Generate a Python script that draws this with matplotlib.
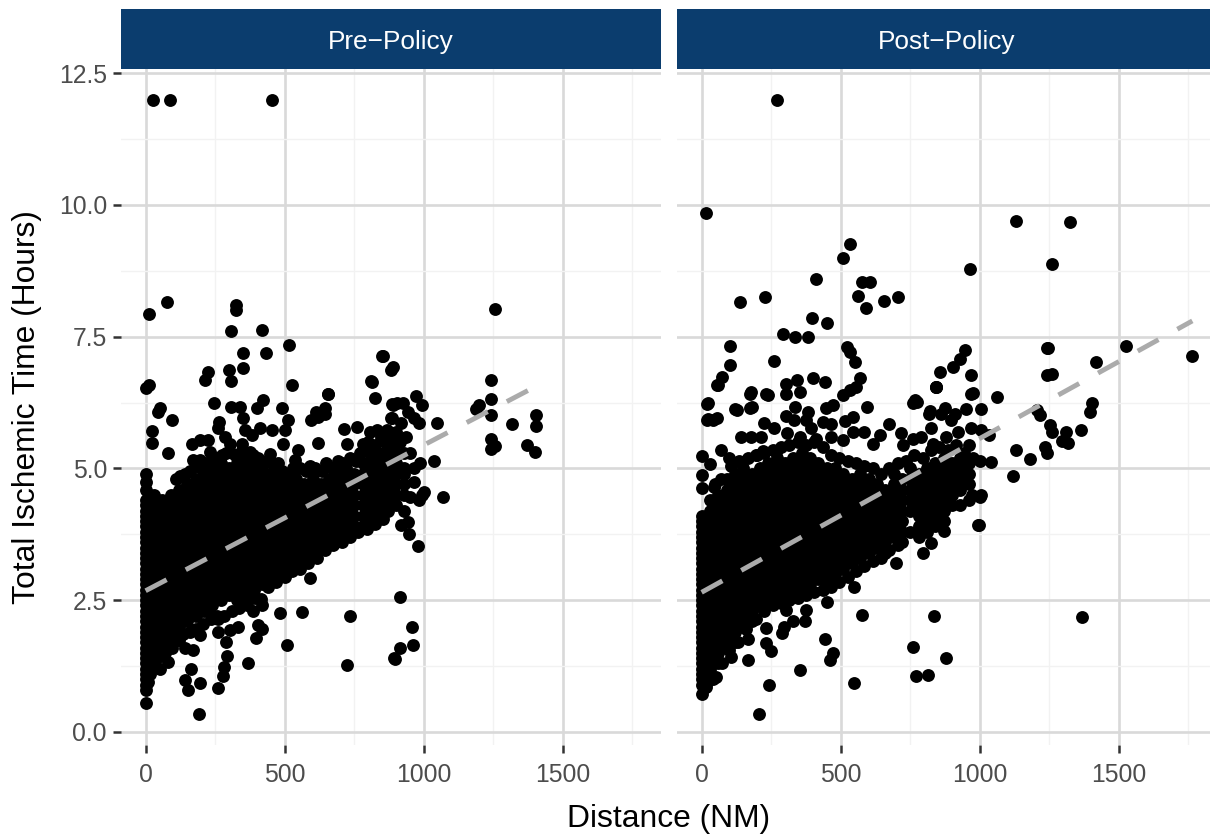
import matplotlib
matplotlib.use("Agg")
import matplotlib.pyplot as plt

plt.rcParams['font.family'] = ['Liberation Sans', 'DejaVu Sans']

W, H = 1210, 835

panel_names = ['Pre\u2212Policy', 'Post\u2212Policy']
x_major = [0, 500, 1000, 1500]
x_minor = [250, 750, 1250, 1750]
y_major = [0, 2.5, 5, 7.5, 10, 12.5]
y_minor = [1.25, 3.75, 6.25, 8.75, 11.25]
y_labels = ['0.0', '2.5', '5.0', '7.5', '10.0', '12.5']

# dense part of the cloud, column by column (distance, then times read at that distance)
pre_col_x = [0, 30, 60, 90, 120, 150, 180, 210, 240, 270, 300, 330, 360, 390, 420, 450,
             480, 510, 540, 570, 600, 630, 660, 690, 720, 750, 780, 810, 840, 870, 900, 930]
pre_col_y = [
    [0.8, 1.0, 1.2, 1.4, 1.6, 1.8, 2.0, 2.2, 2.4, 2.6, 2.8, 3.0, 3.2, 3.4, 3.6, 3.8, 4.0, 4.2, 4.4],
    [1.5, 1.7, 1.9, 2.1, 2.3, 2.5, 2.7, 2.9, 3.1, 3.3, 3.5, 3.7, 3.9, 4.1, 4.3, 4.5],
    [1.6, 1.8, 2.0, 2.2, 2.4, 2.6, 2.8, 3.0, 3.2, 3.4, 3.6, 3.8, 4.0, 4.2, 4.4],
    [1.7, 1.9, 2.1, 2.3, 2.5, 2.7, 2.9, 3.1, 3.3, 3.5, 3.7, 3.9, 4.1, 4.3, 4.5],
    [1.8, 2.0, 2.2, 2.4, 2.6, 2.8, 3.0, 3.2, 3.4, 3.6, 3.8, 4.0, 4.2, 4.4, 4.6],
    [2.1, 2.3, 2.5, 2.7, 2.9, 3.1, 3.3, 3.5, 3.7, 3.9, 4.1, 4.3, 4.5, 4.7],
    [2.2, 2.4, 2.6, 2.8, 3.0, 3.2, 3.4, 3.6, 3.8, 4.0, 4.2, 4.4, 4.6, 4.8],
    [2.3, 2.5, 2.7, 2.9, 3.1, 3.3, 3.5, 3.7, 3.9, 4.1, 4.3, 4.5, 4.7, 4.9],
    [2.4, 2.6, 2.8, 3.0, 3.2, 3.4, 3.6, 3.8, 4.0, 4.2, 4.4, 4.6, 4.8, 5.0],
    [2.5, 2.7, 2.9, 3.1, 3.3, 3.5, 3.7, 3.9, 4.1, 4.3, 4.5, 4.7, 4.9, 5.1],
    [2.6, 2.8, 3.0, 3.2, 3.4, 3.6, 3.8, 4.0, 4.2, 4.4, 4.6, 4.8, 5.0],
    [2.5, 2.7, 2.9, 3.1, 3.3, 3.5, 3.7, 3.9, 4.1, 4.3, 4.5, 4.7, 4.9, 5.1],
    [2.6, 2.8, 3.0, 3.2, 3.4, 3.6, 3.8, 4.0, 4.2, 4.4, 4.6, 4.8, 5.0],
    [2.7, 2.9, 3.1, 3.3, 3.5, 3.7, 3.9, 4.1, 4.3, 4.5, 4.7, 4.9, 5.1],
    [2.8, 3.0, 3.2, 3.4, 3.6, 3.8, 4.0, 4.2, 4.4, 4.6, 4.8, 5.0],
    [2.9, 3.1, 3.3, 3.5, 3.7, 3.9, 4.1, 4.3, 4.5, 4.7, 4.9],
    [3.0, 3.2, 3.4, 3.6, 3.8, 4.0, 4.2, 4.4, 4.6, 4.8],
    [3.1, 3.3, 3.5, 3.7, 3.9, 4.1, 4.3, 4.5, 4.7],
    [3.2, 3.4, 3.6, 3.8, 4.0, 4.2, 4.4, 4.6, 4.8],
    [3.3, 3.5, 3.7, 3.9, 4.1, 4.3, 4.5, 4.7],
    [3.4, 3.6, 3.8, 4.0, 4.2, 4.4, 4.6, 4.8],
    [3.5, 3.7, 3.9, 4.1, 4.3, 4.5, 4.7],
    [3.6, 3.8, 4.0, 4.2, 4.4, 4.6, 4.8],
    [3.7, 3.9, 4.1, 4.3, 4.5, 4.7, 4.9],
    [3.8, 4.0, 4.2, 4.4, 4.6, 4.8, 5.0],
    [3.9, 4.1, 4.3, 4.5, 4.7, 4.9],
    [3.9, 4.1, 4.3, 4.5, 4.7, 4.9, 5.1],
    [4.0, 4.2, 4.4, 4.6, 4.8, 5.0, 5.2],
    [4.1, 4.3, 4.5, 4.7, 4.9, 5.1, 5.3],
    [4.2, 4.4, 4.6, 4.8, 5.0, 5.2, 5.4],
    [4.3, 4.5, 4.7, 4.9, 5.1, 5.3, 5.5],
    [4.2, 4.5, 4.9, 5.0, 5.3],
]
pre_x = [25, 86, 453, 76, 11, 324, 324, 306, 420, 349, 432, 514, 299, 223, 212, 349, 306, 525,
         11, 0, 52, 46, 96, 22, 22, 82, 246, 307, 339, 399, 423, 492, 513, 501, 453, 411, 381,
         351, 357, 264, 261, 285, 303, 303, 231, 225, 195, 165, 171, 195, 345, 375, 495, 447,
         549, 537, 621, 595, 621, 645, 645, 657, 713, 761, 723, 825, 813, 885, 885, 807, 831,
         867, 783, 813, 655, 809, 849, 612, 0, 0, 0, 8, 5,
         855, 891, 883, 971, 995, 903, 891, 927, 945, 963, 981, 883, 917, 1256, 1242, 1242,
         1242, 1199, 1188, 1316, 1404, 1404, 1370, 1398, 1242, 1256, 1242, 1048, 1038, 1068,
         980, 916, 959, 960, 916, 893, 917, 945, 948, 995, 981, 951,
         591, 414, 417, 387, 483, 561, 733, 405, 417, 396, 333, 303, 261, 288, 261, 225, 510,
         367, 291, 282, 277, 261, 195, 151, 141, 162, 192, 0, 52, 82, 169, 195, 723, 897, 120, 140]
pre_y = [12, 12, 12, 8.16, 7.93, 8.1, 8.0, 7.6, 7.63, 7.19, 7.19, 7.34, 6.87, 6.83, 6.68, 6.9, 6.66, 6.58,
         6.58, 6.53, 6.14, 6.08, 5.92, 5.72, 5.49, 5.3, 6.25, 6.16, 6.16, 6.14, 6.3, 6.14, 5.92, 5.73, 5.73, 5.76, 5.63,
         5.95, 5.73, 5.89, 5.76, 5.6, 5.47, 5.32, 5.32, 5.54, 5.54, 5.47, 5.16, 5.16, 5.47, 5.32, 5.47, 5.28,
         5.35, 5.16, 5.49, 5.92, 5.97, 6.04, 6.14, 6.42, 5.75, 5.79, 5.47, 6.33, 6.65, 6.23, 5.95, 5.7, 5.73,
         5.73, 5.47, 5.38, 6.41, 6.66, 7.13, 6.07, 4.6, 4.75, 4.9, 0.95, 1.1,
         7.13, 6.92, 6.87, 6.38, 6.2, 6.25, 6.2, 6.25, 6.08, 5.96, 5.87, 5.96, 5.86, 8.03, 6.67, 6.32,
         6.02, 6.2, 6.13, 5.84, 6.02, 5.81, 5.45, 5.31, 5.56, 5.42, 5.37, 5.87, 5.14, 4.45,
         3.52, 2.56, 1.99, 1.65, 1.6, 1.4, 3.93, 3.99, 3.75, 4.5, 4.4, 4.45,
         2.93, 2.53, 2.41, 2.3, 2.25, 2.27, 2.2, 2.03, 1.96, 1.79, 1.99, 1.93, 1.9, 1.71, 2.15, 2.31, 1.65,
         1.3, 1.44, 1.23, 1.06, 0.84, 0.93, 0.79, 0.99, 1.2, 0.34, 0.55, 1.19, 1.33, 1.55, 1.84, 1.28, 1.39, 1.75, 1.6]

# rim of the cloud and the left edge at very short distances
pre_edge_x = [110, 125, 140, 160, 185, 200, 215, 235, 255, 275, 290, 320, 340, 365, 385, 405, 435, 460, 475,
              490, 510, 530, 555, 575, 590, 610, 635, 650, 670, 690, 705, 735, 755, 770, 790, 800, 825, 845,
              860, 880, 900, 915, 935, 950, 965, 985, 930, 965, 1000,
              20, 35, 50, 70, 95, 115, 135, 160, 180, 205, 235, 255, 280, 310, 335, 365, 395, 440, 470, 500,
              525, 555, 585, 615, 645, 675, 705, 735, 765, 795, 825, 855,
              0, 0, 0, 0, 0, 0, 0, 0, 0, 0, 0, 0, 0, 0, 0, 0, 0, 0,
              14, 14, 14, 14, 14, 14, 14, 14, 14, 14, 14, 14, 14, 14, 14, 14, 14]
pre_edge_y = [4.8, 4.85, 4.9, 4.95, 5.05, 5.0, 5.1, 5.15, 5.2, 5.25, 5.3, 5.25, 5.3, 5.2, 5.25, 5.2, 5.15, 5.05, 5.1,
              4.95, 4.9, 5.0, 5.0, 4.95, 5.05, 5.0, 4.95, 5.1, 5.0, 5.15, 5.1, 5.2, 5.15, 5.3, 5.35, 5.5, 5.45, 5.6,
              5.5, 5.65, 5.7, 5.5, 5.6, 5.3, 5.0, 5.1, 4.7, 4.75, 4.55,
              1.2, 1.35, 1.45, 1.5, 1.6, 1.75, 1.85, 1.9, 1.95, 2.05, 2.15, 2.2, 2.2, 2.3, 2.35, 2.4, 2.55, 2.75, 2.85, 2.95,
              3.05, 3.1, 3.2, 3.3, 3.45, 3.55, 3.6, 3.7, 3.8, 3.85, 3.95, 4.05,
              0.9, 1.1, 1.3, 1.5, 1.7, 1.9, 2.1, 2.3, 2.5, 2.7, 2.9, 3.1, 3.3, 3.5, 3.7, 3.9, 4.1, 4.3,
              1.1, 1.3, 1.5, 1.7, 1.9, 2.1, 2.3, 2.5, 2.7, 2.9, 3.1, 3.3, 3.5, 3.7, 3.9, 4.1, 4.3]

post_col_x = [0, 30, 60, 90, 120, 150, 180, 210, 240, 270, 300, 330, 360, 390, 420, 450, 465,
              480, 510, 540, 570, 600, 630, 660, 690, 720, 750, 780, 810, 840, 870, 900, 930, 960]
post_col_y = [
    [0.9, 1.1, 1.3, 1.5, 1.7, 1.9, 2.1, 2.3, 2.5, 2.7, 2.9, 3.1, 3.3, 3.5, 3.7, 3.9],
    [1.0, 1.2, 1.4, 1.6, 1.8, 2.0, 2.2, 2.4, 2.6, 2.8, 3.0, 3.2, 3.4, 3.6, 3.8, 4.0, 4.2, 4.4],
    [1.3, 1.5, 1.7, 1.9, 2.1, 2.3, 2.5, 2.7, 2.9, 3.1, 3.3, 3.5, 3.7, 3.9, 4.1, 4.3, 4.5],
    [1.6, 1.8, 2.0, 2.2, 2.4, 2.6, 2.8, 3.0, 3.2, 3.4, 3.6, 3.8, 4.0, 4.2, 4.4, 4.6, 4.8],
    [1.7, 1.9, 2.1, 2.3, 2.5, 2.7, 2.9, 3.1, 3.3, 3.5, 3.7, 3.9, 4.1, 4.3, 4.5, 4.7, 4.9],
    [2.0, 2.2, 2.4, 2.6, 2.8, 3.0, 3.2, 3.4, 3.6, 3.8, 4.0, 4.2, 4.4, 4.6, 4.8, 5.0],
    [2.1, 2.3, 2.5, 2.7, 2.9, 3.1, 3.3, 3.5, 3.7, 3.9, 4.1, 4.3, 4.5, 4.7, 4.9],
    [2.4, 2.6, 2.8, 3.0, 3.2, 3.4, 3.6, 3.8, 4.0, 4.2, 4.4, 4.6, 4.8, 5.0],
    [2.5, 2.7, 2.9, 3.1, 3.3, 3.5, 3.7, 3.9, 4.1, 4.3, 4.5, 4.7, 4.9, 5.1],
    [2.6, 2.8, 3.0, 3.2, 3.4, 3.6, 3.8, 4.0, 4.2, 4.4, 4.6, 4.8, 5.0, 5.2],
    [2.5, 2.7, 2.9, 3.1, 3.3, 3.5, 3.7, 3.9, 4.1, 4.3, 4.5, 4.7, 4.9, 5.1],
    [2.6, 2.8, 3.0, 3.2, 3.4, 3.6, 3.8, 4.0, 4.2, 4.4, 4.6, 4.8, 5.0, 5.2],
    [2.7, 2.9, 3.1, 3.3, 3.5, 3.7, 3.9, 4.1, 4.3, 4.5, 4.7, 4.9, 5.1, 5.3],
    [2.8, 3.0, 3.2, 3.4, 3.6, 3.8, 4.0, 4.2, 4.4, 4.6, 4.8, 5.0, 5.2],
    [2.9, 3.1, 3.3, 3.5, 3.7, 3.9, 4.1, 4.3, 4.5, 4.7, 4.9, 5.1],
    [2.8, 3.0, 3.2, 3.4, 3.6, 3.8, 4.0, 4.2, 4.4, 4.6, 4.8, 5.0],
    [2.9, 3.1, 3.3, 3.5, 3.7, 3.9, 4.1, 4.3, 4.5, 4.7, 4.9],
    [3.0, 3.2, 3.4, 3.6, 3.8, 4.0, 4.2, 4.4, 4.6, 4.8, 5.0],
    [3.1, 3.3, 3.5, 3.7, 3.9, 4.1, 4.3, 4.5, 4.7, 4.9],
    [3.2, 3.4, 3.6, 3.8, 4.0, 4.2, 4.4, 4.6, 4.8],
    [3.3, 3.5, 3.7, 3.9, 4.1, 4.3, 4.5, 4.7, 4.9],
    [3.4, 3.6, 3.8, 4.0, 4.2, 4.4, 4.6, 4.8],
    [3.5, 3.7, 3.9, 4.1, 4.3, 4.5, 4.7],
    [3.4, 3.6, 3.8, 4.0, 4.2, 4.4, 4.6],
    [3.7, 3.9, 4.1, 4.3, 4.5, 4.7, 4.9],
    [3.6, 3.8, 4.0, 4.2, 4.4, 4.6, 4.8],
    [3.8, 4.2, 4.4, 4.6, 4.8, 5.0],
    [3.7, 3.9, 4.1, 4.3, 4.5, 4.7, 4.9],
    [3.8, 4.0, 4.2, 4.4, 4.6, 4.8, 5.0],
    [3.9, 4.1, 4.3, 4.5, 4.7, 4.9, 5.1],
    [4.0, 4.2, 4.4, 4.6, 4.8, 5.0, 5.2],
    [4.3, 4.5, 4.7, 4.9, 5.1],
    [4.3, 4.6, 4.8, 5.0, 5.2],
    [4.4, 4.7, 4.9, 5.1],
]
post_x = [270, 14, 1129, 1324, 1259, 964, 532, 507, 410, 576, 604, 561, 590, 655, 705, 227, 137,
          396, 450, 291, 335, 381, 101, 522, 532, 1241, 259, 946, 930, 903, 970, 843, 974, 766,
          1062, 1244, 1258, 1241, 1416, 1527, 1764, 101, 72, 54, 22, 126, 18, 40, 173, 176, 237,
          342, 399, 442, 352, 550, 568, 856, 842, 759, 773, 820, 874, 1205, 1216, 1403, 1396,
          1129, 1119, 1180, 1241, 1252, 1259, 1309, 1295, 1234, 1363, 1317, 1367, 1040, 1032,
          1000, 971, 993,
          700, 577, 835, 759, 878, 772, 814, 548, 205, 241, 353, 460, 472, 442, 452, 547, 373,
          329, 290, 295, 376, 305, 248, 233, 233, 167, 104, 167, 98, 796, 824, 872, 996, 1006,
          20, 23, 55, 121, 182, 175, 233, 59, 305, 305, 335, 224, 382, 448, 472, 595, 508, 532,
          556, 844, 970, 674, 514, 544, 436, 466, 262, 302, 332, 376, 394, 410, 307, 352, 464,
          508, 544, 584, 640, 616, 718, 818, 862, 910, 952, 1006, 898, 826, 880, 922, 970, 1006,
          962, 790, 724, 760, 832, 71, 143, 179, 215, 221, 269, 2, 29, 0, 0, 47, 0, 8, 0, 15, 100, 200]
post_y = [12, 9.85, 9.7, 9.68, 8.88, 8.78, 9.26, 9.0, 8.6, 8.54, 8.54, 8.27, 8.05, 8.17, 8.25, 8.25, 8.16,
          7.85, 7.76, 7.55, 7.5, 7.5, 7.32, 7.3, 7.21, 7.29, 7.04, 7.25, 7.07, 6.93, 6.77, 6.55, 6.43, 6.3,
          6.36, 7.29, 6.8, 6.77, 7.02, 7.32, 7.13, 6.96, 6.74, 6.58, 6.24, 6.11, 5.92, 5.92, 6.15, 6.45, 6.39,
          6.68, 6.72, 6.64, 6.45, 7.02, 6.72, 6.83, 6.55, 6.24, 6.26, 6.1, 6.15, 6.11, 6.02, 6.24, 6.07,
          5.35, 4.86, 5.18, 5.29, 5.83, 5.69, 5.69, 5.52, 5.41, 5.73, 5.48, 2.18, 5.12, 5.64,
          4.46, 4.5, 3.93,
          3.2, 2.22, 2.2, 1.61, 1.4, 1.06, 1.09, 0.92, 0.35, 0.89, 1.17, 1.36, 1.49, 1.77, 2.47, 2.75, 2.11,
          2.11, 1.87, 2.0, 2.31, 2.31, 1.54, 1.68, 1.98, 1.36, 1.42, 1.77, 1.82, 3.39, 3.59, 3.82, 3.92, 4.49,
          6.23, 5.94, 5.95, 6.12, 6.17, 6.42, 6.42, 6.58, 6.61, 6.42, 6.16, 5.87, 6.08, 6.14, 6.2, 6.17, 6.39, 6.49,
          6.55, 6.55, 6.42, 5.85, 5.9, 5.97, 5.89, 5.85, 5.76, 5.99, 5.92, 5.92, 5.76, 5.55, 5.68, 5.6, 5.6,
          5.54, 5.7, 5.7, 5.63, 5.47, 5.68, 6.04, 6.04, 6.04, 6.12, 6.12, 5.92, 5.76, 5.6, 5.7, 5.76, 5.73,
          5.44, 5.6, 5.44, 5.55, 5.47, 5.35, 5.6, 5.6, 5.6, 5.34, 5.32, 5.23, 5.09, 4.88, 4.63, 4.7, 0.73, 0.85, 4.1, 0.85, 5.2, 5.25]

post_edge_x = [45, 70, 105, 135, 165, 195, 225, 255, 285, 315, 345, 375, 405, 435, 465, 495, 525, 555, 585,
               615, 645, 675, 705, 735, 765, 795, 825, 855, 885, 915, 945, 975, 1000,
               12, 20, 40, 50, 75, 100, 130, 160, 195, 225, 255, 285, 315, 345, 375, 405, 435, 465, 495, 525,
               555, 585, 615, 645, 675, 705,
               0, 0, 0, 0, 0, 0, 0, 0, 0, 0, 0, 0, 0, 0, 0, 0,
               14, 14, 14, 14, 14, 14, 14, 14, 14, 14, 14, 14, 14, 14, 14, 14]
post_edge_y = [4.65, 4.8, 5.05, 5.15, 5.2, 5.25, 5.3, 5.35, 5.4, 5.45, 5.5, 5.45, 5.5, 5.4, 5.25, 5.2, 5.15, 5.1, 5.05,
               5.0, 4.9, 5.0, 5.1, 5.15, 5.25, 5.2, 5.35, 5.4, 5.35, 5.45, 5.3, 5.2, 5.15,
               0.85, 0.95, 1.0, 1.05, 1.3, 1.55, 1.7, 1.95, 2.15, 2.3, 2.4, 2.45, 2.5, 2.55, 2.6, 2.65, 2.7, 2.75, 2.85, 2.95,
               3.05, 3.15, 3.25, 3.3, 3.45, 3.55,
               1.0, 1.2, 1.4, 1.6, 1.8, 2.0, 2.2, 2.4, 2.6, 2.8, 3.0, 3.2, 3.4, 3.6, 3.8, 4.0,
               1.0, 1.2, 1.4, 1.6, 1.8, 2.0, 2.2, 2.4, 2.6, 2.8, 3.0, 3.2, 3.4, 3.6, 3.8, 4.0]

fit_x = [[0, 1400], [0, 1764]]
fit_y = [[2.68, 6.55], [2.65, 7.8]]


def flatten(col_x, col_y, extra_x, extra_y):
    xs, ys = [], []
    for cx, cy in zip(col_x, col_y):
        xs += [cx] * len(cy)
        ys += cy
    return xs + extra_x, ys + extra_y


pre_all = flatten(pre_col_x, pre_col_y, pre_x + pre_edge_x, pre_y + pre_edge_y)
post_all = flatten(post_col_x, post_col_y, post_x + post_edge_x, post_y + post_edge_y)


def rect(left, top, right, bottom):
    return [left / W, 1 - bottom / H, (right - left) / W, (bottom - top) / H]


fig = plt.figure(figsize=(W / 100, H / 100), dpi=100)

lefts = [121.3, 677.3]
for i, (xs, ys) in enumerate([pre_all, post_all]):
    ax = fig.add_axes(rect(lefts[i], 69, lefts[i] + 539.4, 745))
    ax.set_xlim(-87.4, 1851.6)
    ax.set_ylim(-0.247, 12.58)
    for s in ax.spines.values():
        s.set_visible(False)
    ax.set_axisbelow(True)
    ax.set_xticks(x_major)
    ax.set_xticks(x_minor, minor=True)
    ax.set_yticks(y_major)
    ax.set_yticks(y_minor, minor=True)
    ax.grid(which='major', color='#D9D9D9', linewidth=1.9)
    ax.grid(which='minor', color='#F2F2F2', linewidth=1.0)
    ax.tick_params(which='minor', length=0)
    ax.tick_params(which='major', length=5.8, width=1.8, color='#333333',
                   labelcolor='#4D4D4D', labelsize=17.8, pad=4.5)
    ax.tick_params(axis='x', which='major', pad=7.5)
    if i == 0:
        ax.set_yticklabels(y_labels)
    else:
        ax.tick_params(axis='y', which='major', left=False, labelleft=False)
    ax.scatter(xs, ys, s=86, color='black', linewidths=0, zorder=3)
    ax.plot(fit_x[i], fit_y[i], color='#ABABAB', linewidth=3.5, zorder=4,
            dashes=(4.88, 4.44), dash_capstyle='butt')

    strip = fig.add_axes(rect(lefts[i], 9, lefts[i] + 539.4, 69))
    strip.set_facecolor('#0B3D6E')
    strip.set_xticks([])
    strip.set_yticks([])
    for s in strip.spines.values():
        s.set_visible(False)
    strip.text(0.5, 0.45, panel_names[i], color='white', fontsize=18.9,
               ha='center', va='center', transform=strip.transAxes)

fig.text(668.5 / W, 1 - 819 / H, 'Distance (NM)', fontsize=22.9, ha='center', va='center')
fig.text(27 / W, 1 - 407 / H, 'Total Ischemic Time (Hours)', fontsize=22.9,
         rotation=90, ha='center', va='center')

fig.savefig('out.png', dpi=100)
